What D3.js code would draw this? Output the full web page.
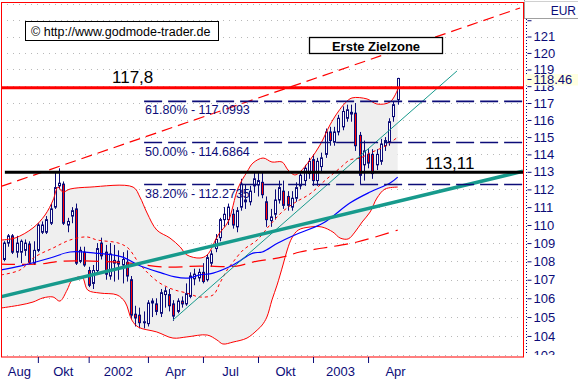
<!DOCTYPE html>
<html><head><meta charset="utf-8">
<script src="https://cdn.jsdelivr.net/npm/d3@7"></script>
<style>body{margin:0;background:#fff}svg{display:block}</style>
</head><body>
<svg id="c" width="578" height="379"></svg>
<script>
// ---- weekly OHLC (index 0 = last week of June 2001, 93 = first week of April 2003)
const opens  = [108.1,109.0,109.4,108.5,108.5,108.6,108.95,107.9,108.6,109.6,109.6,110.1,111.0,112.2,112.3,110.0,110.5,110.9,108.0,108.5,107.5,106.8,107.5,109.0,108.5,107.2,107.9,107.85,107.8,107.95,107.0,105.15,105.1,104.7,104.65,105.75,105.7,105.2,106.2,106.2,105.7,105.3,105.85,105.7,106.1,107.05,107.1,107.4,107.0,107.9,108.7,109.3,110.3,110.3,110.6,109.9,111.0,111.3,111.3,112.2,112.25,112.4,111.3,110.25,110.6,111.4,111.9,111.6,111.0,111.5,112.2,112.5,112.9,113.7,112.5,113.3,114.0,115.3,114.7,115.3,115.6,116.1,116.45,116.4,115.1,113.4,114.0,114.0,113.4,113.6,114.5,114.7,116.2,117.2];
const highs  = [109.1,109.5,109.5,109.4,109.2,109.2,109.1,109.1,110.1,110.2,110.5,111.2,113.0,113.2,112.45,110.4,111.0,111.2,108.8,108.8,107.7,107.8,109.0,109.3,108.9,109.0,108.9,108.6,108.5,108.6,107.2,105.6,105.5,105.3,105.9,106.0,106.0,106.5,106.6,106.5,105.9,106.0,106.1,106.8,107.4,107.6,107.6,107.9,108.4,108.6,109.5,110.4,111.0,111.2,110.9,111.0,112.6,112.3,112.2,112.95,113.0,112.95,111.6,110.9,112.0,112.5,112.5,111.9,111.9,112.4,113.0,113.4,113.8,114.0,113.8,114.1,115.5,115.6,115.6,116.3,116.8,116.9,116.9,117.0,115.3,114.8,114.3,114.3,114.3,114.9,115.0,116.1,117.1,118.5];
const lows   = [108.0,108.8,108.4,108.2,107.9,108.3,107.85,107.8,108.5,109.5,109.5,110.0,110.9,112.0,110.0,109.6,110.1,107.8,107.9,107.7,106.6,106.5,107.4,108.1,107.0,107.0,106.9,107.0,106.8,106.9,104.9,104.5,104.4,104.4,104.5,105.0,105.1,105.0,105.5,105.3,104.8,105.2,105.5,105.6,106.0,106.7,106.9,106.8,106.9,107.7,108.5,109.1,109.9,110.0,109.8,109.6,110.8,110.9,111.1,111.8,111.6,111.5,109.9,109.9,110.3,111.2,110.9,110.8,110.8,111.3,112.0,112.2,112.6,112.2,112.2,113.0,113.8,114.5,114.5,115.1,115.4,115.9,115.9,114.2,112.3,112.5,113.2,112.6,113.1,113.4,114.2,114.5,115.9,116.9];
const closes = [109.0,109.4,108.5,109.0,109.1,109.0,107.95,108.6,110.0,110.0,110.3,110.9,112.1,112.35,110.1,110.2,110.8,107.9,108.6,107.8,106.7,107.5,108.7,108.3,107.3,108.4,108.05,108.0,108.1,107.2,105.1,104.95,104.7,104.75,105.75,105.85,105.3,106.3,106.4,105.6,105.05,105.85,105.7,106.25,107.2,107.3,107.4,106.9,108.2,108.4,109.2,110.3,110.6,111.0,110.0,110.8,112.3,111.4,111.9,112.6,112.5,111.7,110.3,110.45,111.4,112.1,111.1,111.1,111.5,112.1,112.8,113.2,113.6,112.5,113.6,113.8,115.3,114.8,115.3,116.1,116.5,116.6,116.35,114.5,112.8,114.2,113.5,112.9,114.0,114.6,114.8,115.9,116.9,118.46];
const lastPrice = 118.46;

// ---- indicator readings: [week index, price]
const upperBand = [[-0.7,109.17],[2.6,109.28],[6.85,109.84],[9.7,110.56],[11.6,111.4],[12.75,112.13],[13.9,111.85],[15.6,112.02],[20.3,112.13],[30.5,112.13],[32.1,111.57],[33.8,110.67],[36.1,109.72],[39.2,109.28],[41.6,108.79],[43.2,108.35],[46.3,108.18],[48.0,108.35],[50.6,109.45],[52.9,110.17],[55.3,112.08],[57.4,112.99],[58.8,113.5],[61.2,113.79],[63.3,113.56],[65.7,113.56],[67.1,113.1],[68.7,112.82],[69.9,112.99],[72.3,113.68],[74.65,114.54],[77.0,115.71],[78.9,116.47],[80.6,117.0],[82.2,117.3],[85.75,117.24],[88.1,116.94],[91.2,117.06],[93,117.8]];
const lowerBand = [[-0.7,105.48],[3.8,105.64],[6.85,105.8],[9.2,106.02],[11.6,106.07],[13.2,105.85],[14.9,106.44],[16.1,106.98],[18.4,107.15],[19.8,106.44],[22.7,106.28],[26.7,106.18],[28.6,105.8],[30.2,104.84],[31.7,104.47],[36.1,104.21],[39.9,103.89],[43.2,103.95],[48.0,104.05],[50.3,103.79],[51.7,103.58],[54.1,103.68],[57.4,103.89],[59.8,104.31],[61.0,104.58],[62.1,105.0],[63.3,105.91],[64.5,106.71],[65.9,107.8],[66.9,108.62],[68.0,109.28],[69.5,109.72],[72.3,109.89],[75.1,109.89],[77.7,109.61],[79.4,109.28],[81.3,109.23],[82.9,109.61],[84.6,110.17],[86.5,110.73],[88.1,111.51],[90.0,112.02],[93,112.13]];
const middleBand = [[-0.7,107.26],[3.8,107.53],[7.3,108.24],[11.6,108.73],[15.6,109.17],[19.6,109.34],[22.0,109.17],[26.9,109.01],[29.3,108.73],[31.7,107.96],[34.0,107.36],[36.4,106.88],[38.5,106.61],[40.4,106.44],[43.2,106.28],[46.3,106.07],[49.4,106.18],[51.0,106.82],[52.7,107.53],[54.1,107.96],[56.5,108.62],[59.8,109.17],[62.8,110.0],[65.7,110.73],[68.7,111.25],[72.3,111.75],[75.8,112.5],[79.4,113.22],[81.7,113.68],[84.1,113.79],[86.5,114.08],[90.5,114.54],[93,115.01]];
const blueAverage = [[-0.7,107.53],[3.8,107.74],[10.9,108.18],[15.6,108.51],[21.5,108.45],[27.9,108.24],[31.7,107.8],[37.3,107.36],[40.4,107.15],[43.5,107.09],[46.3,107.26],[49.4,107.36],[54.1,107.8],[58.8,108.45],[61.0,108.51],[64.7,109.01],[68.7,109.45],[75.4,110.11],[81.7,111.23],[86.5,111.85],[91.2,112.36],[93,112.7]];
const longAverage = [[-0.7,107.85],[8.5,107.85],[13.2,108.0],[22.7,108.0],[29.8,107.9],[38.0,107.69],[46.3,107.74],[55.0,107.74],[58.8,107.96],[65.9,108.24],[69.9,108.51],[75.4,108.73],[83.4,109.06],[93,109.72]];
const trendThick = [[-0.95,106.07],[122.6,113.03]];
const trendThin = [[39.9,104.84],[107.0,118.91]];
const channelUpper = [[-0.7,112.17],[121.9,122.76]];

// ---- levels
const fibLevels = [117.0993, 114.6864, 112.2735];
const fibLabels = ["61.80% - 117.0993", "50.00% - 114.6864", "38.20% - 112.2735"];
const fibStart = 33.1;
const resistance = 117.91, resistanceText = "117,8";
const support = 112.97, supportText = "113,11";

// ---- axes
const priceTicks = d3.range(103, 124);
const priceLabelMax = 121;
const timeTicks = [8, 20, 34, 47, 60, 73, 86];
const timeLabels = ["Aug", "Okt", "2002", "Apr", "Jul", "Okt", "2003", "Apr"];

const svg = d3.select("#c");
const L = 1, T = 2, R = 523, B = 357;
const x = d3.scaleLinear().domain([-0.709, 122.6]).range([L, R]);
const y = d3.scaleLog().domain([102.9, 123.13]).range([B, T]);
const NAVY = "#0c0c78", RED = "#ff0000", TEAL = "#179a8c";
const FONT = "'Liberation Sans', Arial, sans-serif";
const NARROW = "'Liberation Sans Narrow', 'Arial Narrow', 'Liberation Sans', sans-serif";

svg.append("rect").attr("width", 578).attr("height", 379).attr("fill", "#fff");
const defs = svg.append("defs");
defs.append("clipPath").attr("id", "clip")
  .append("rect").attr("x", L).attr("y", T).attr("width", R - L).attr("height", B - T);
defs.append("clipPath").attr("id", "rclip")
  .append("rect").attr("x", 524).attr("y", 19).attr("width", 54).attr("height", 336);
const g = svg.append("g").attr("clip-path", "url(#clip)");

// grid
g.selectAll(".grid").data(priceTicks).join("line")
  .attr("x1", L).attr("x2", R)
  .attr("y1", d => Math.round(y(d)) + 0.5).attr("y2", d => Math.round(y(d)) + 0.5)
  .attr("stroke", "#b8b8b8").attr("stroke-dasharray", "1,5");

const curve = d3.line().x(d => x(d[0])).y(d => y(d[1])).curve(d3.curveCatmullRom.alpha(0.5));
const straight = d3.line().x(d => x(d[0])).y(d => y(d[1]));

// band fill
const up = curve(upperBand);
const lo = curve(lowerBand.slice().reverse());
g.append("path").attr("d", up + "L" + lo.substring(1) + "Z").attr("fill", "#efefef");

// candles
const idx = d3.range(closes.length);
const cg = g.append("g");
cg.selectAll("line").data(idx).join("line")
  .attr("x1", i => Math.round(x(i)) + 0.5).attr("x2", i => Math.round(x(i)) + 0.5)
  .attr("y1", i => y(highs[i])).attr("y2", i => y(lows[i]))
  .attr("stroke", NAVY).attr("stroke-width", 1);
cg.selectAll("rect").data(idx).join("rect")
  .attr("x", i => Math.round(x(i)) - 0.5)
  .attr("width", 2)
  .attr("y", i => y(Math.max(opens[i], closes[i])))
  .attr("height", i => Math.max(1, Math.abs(y(opens[i]) - y(closes[i]))))
  .attr("fill", i => closes[i] >= opens[i] ? "#fff" : RED)
  .attr("stroke", NAVY).attr("stroke-width", 1);

// indicator lines
g.append("path").attr("d", curve(upperBand)).attr("fill", "none").attr("stroke", RED).attr("stroke-width", 1);
g.append("path").attr("d", curve(lowerBand)).attr("fill", "none").attr("stroke", RED).attr("stroke-width", 1);
g.append("path").attr("d", curve(middleBand)).attr("fill", "none").attr("stroke", RED).attr("stroke-width", 1).attr("stroke-dasharray", "3,3");
g.append("path").attr("d", curve(longAverage)).attr("fill", "none").attr("stroke", RED).attr("stroke-width", 1.2).attr("stroke-dasharray", "14,7");
g.append("path").attr("d", curve(blueAverage)).attr("fill", "none").attr("stroke", "#0000ff").attr("stroke-width", 1.2);
g.append("path").attr("d", straight(channelUpper)).attr("fill", "none").attr("stroke", RED).attr("stroke-width", 1.2).attr("stroke-dasharray", "11,6");
g.append("path").attr("d", straight(trendThin)).attr("fill", "none").attr("stroke", TEAL).attr("stroke-width", 1);
g.append("path").attr("d", straight(trendThick)).attr("fill", "none").attr("stroke", TEAL).attr("stroke-width", 3.5);

// fibonacci lines
g.selectAll(".fib").data(fibLevels).join("line")
  .attr("x1", x(fibStart)).attr("x2", R)
  .attr("y1", d => y(d)).attr("y2", d => y(d))
  .attr("stroke", NAVY).attr("stroke-width", 1.6).attr("stroke-dasharray", "18,6");
g.selectAll(".fibt").data(fibLabels).join("text")
  .attr("x", x(fibStart) + 1).attr("y", (d, i) => y(fibLevels[i]) + 13)
  .attr("fill", NAVY).attr("font-family", NARROW).attr("font-size", 12.5)
  .text(d => d);

// horizontal levels
g.append("line").attr("x1", L).attr("x2", R).attr("y1", y(resistance)).attr("y2", y(resistance))
  .attr("stroke", RED).attr("stroke-width", 3);
g.append("line").attr("x1", x(0.2)).attr("x2", R).attr("y1", y(support)).attr("y2", y(support))
  .attr("stroke", "#000").attr("stroke-width", 3);

// texts
svg.append("text").attr("x", 112).attr("y", y(resistance) - 4.5).attr("font-family", FONT)
  .attr("font-size", 17).attr("fill", "#000").text(resistanceText);
svg.append("text").attr("x", 425).attr("y", y(support) - 3).attr("font-family", FONT)
  .attr("font-size", 17).attr("fill", "#000").text(supportText);

svg.append("rect").attr("x", 25.5).attr("y", 21.5).attr("width", 193).attr("height", 19)
  .attr("fill", "#fff").attr("stroke", "#000");
svg.append("text").attr("x", 31).attr("y", 35.5).attr("font-family", FONT).attr("font-size", 12.5)
  .attr("fill", "#000").text("\u00A9 http://www.godmode-trader.de");

svg.append("rect").attr("x", 309.5).attr("y", 37.5).attr("width", 133).attr("height", 16)
  .attr("fill", "#fff").attr("stroke", "#000").attr("stroke-width", 1.3);
svg.append("text").attr("x", 376).attr("y", 50.5).attr("text-anchor", "middle").attr("font-family", FONT)
  .attr("font-size", 13).attr("font-weight", "bold").attr("fill", "#000").text("Erste Zielzone");

// plot border
svg.append("rect").attr("x", L + 0.5).attr("y", T + 0.5).attr("width", R - L).attr("height", B - T - 0.5)
  .attr("fill", "none").attr("stroke", RED).attr("stroke-width", 1);

// right axis panel
const ra = svg.append("g").attr("clip-path", "url(#rclip)");
const rAxis = d3.axisRight(y).tickValues(priceTicks).tickSize(4).tickPadding(2)
  .tickFormat(d => d <= priceLabelMax ? d3.format("d")(d) : "");
const rg = ra.append("g").attr("transform", "translate(527.5,0)").call(rAxis);
rg.select(".domain").remove();
rg.selectAll("line").attr("stroke", NAVY);
rg.selectAll("text").attr("fill", NAVY).attr("font-family", NARROW).attr("font-size", 13);
ra.append("line").attr("x1", 526.5).attr("x2", 526.5).attr("y1", 19).attr("y2", B)
  .attr("stroke", NAVY).attr("stroke-dasharray", "1,2");
svg.append("line").attr("x1", 524.5).attr("x2", 524.5).attr("y1", 0).attr("y2", 18.5).attr("stroke", "#a0a0a0");
svg.append("line").attr("x1", 524).attr("x2", 578).attr("y1", 18.5).attr("y2", 18.5).attr("stroke", "#a0a0a0");
svg.append("line").attr("x1", 524).attr("x2", 578).attr("y1", 1.5).attr("y2", 1.5).attr("stroke", "#d0d0d0");
svg.append("text").attr("x", 576).attr("y", 15).attr("text-anchor", "end").attr("fill", NAVY)
  .attr("font-family", NARROW).attr("font-size", 12).text("EUR");

// last price tag
const ly = y(lastPrice);
svg.append("rect").attr("x", 525.5).attr("y", ly - 4.5).attr("width", 53).attr("height", 11.5).attr("fill", "#ffffe0");
svg.append("line").attr("x1", 527.5).attr("x2", 531.5).attr("y1", ly + 1).attr("y2", ly + 1).attr("stroke", NAVY);
svg.append("text").attr("x", 533.5).attr("y", ly + 5.5).attr("fill", NAVY).attr("font-family", NARROW)
  .attr("font-size", 13).text(d3.format(".2f")(lastPrice));

// bottom axis
const bAxis = d3.axisBottom(x).tickValues(timeTicks).tickSize(6).tickFormat("");
const bg = svg.append("g").attr("transform", `translate(0,${B})`).call(bAxis);
bg.select(".domain").remove();
bg.selectAll("line").attr("stroke", NAVY);
const edges = [L].concat(timeTicks.map(t => x(t))).concat([x(timeTicks[timeTicks.length - 1] + 13)]);
svg.selectAll(".tl").data(timeLabels).join("text")
  .attr("x", (d, i) => (edges[i] + edges[i + 1]) / 2).attr("y", 376)
  .attr("text-anchor", "middle").attr("fill", NAVY).attr("font-family", NARROW).attr("font-size", 13)
  .text(d => d);
</script>
</body></html>
